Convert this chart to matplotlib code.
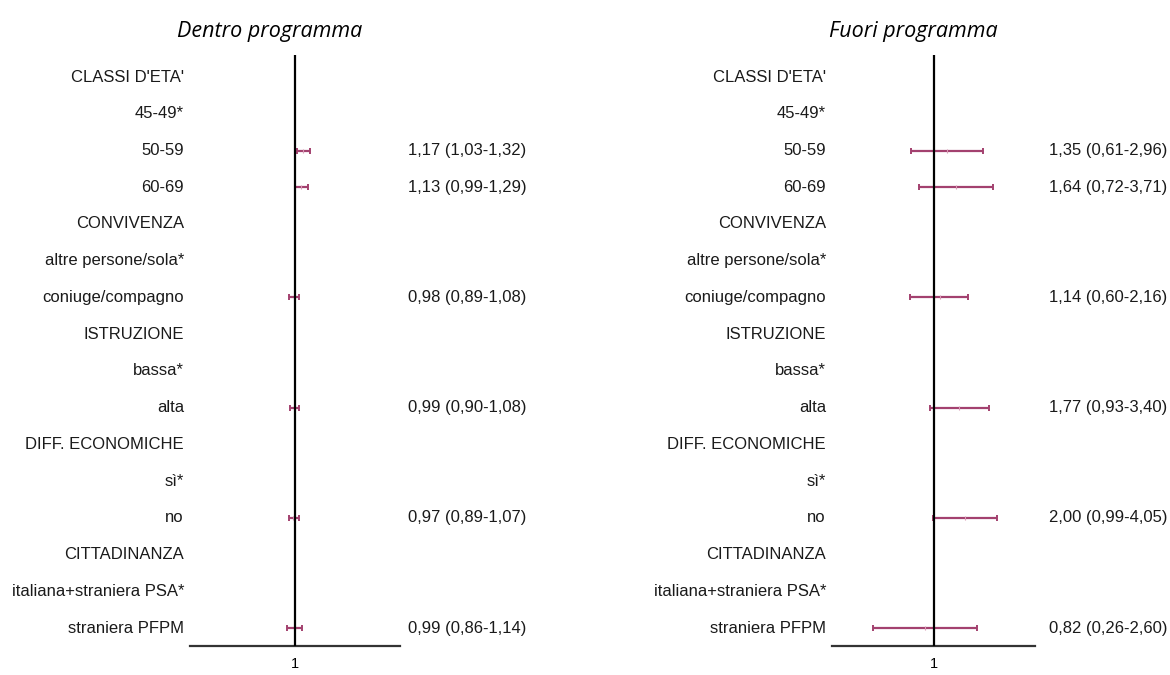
import matplotlib
matplotlib.use("Agg")
import matplotlib.pyplot as plt
import matplotlib.transforms as mtransforms
import numpy as np

labels = ["CLASSI D'ETA'", "45-49*", "50-59", "60-69",
          "CONVIVENZA", "altre persone/sola*", "coniuge/compagno",
          "ISTRUZIONE", "bassa*", "alta",
          "DIFF. ECONOMICHE", "sì*", "no",
          "CITTADINANZA", "italiana+straniera PSA*", "straniera PFPM"]

# rows with an estimate (index into labels)
rows = [2, 3, 6, 9, 12, 15]

dentro_or = [1.17, 1.13, 0.98, 0.99, 0.97, 0.99]
dentro_lo = [1.03, 0.99, 0.89, 0.90, 0.89, 0.86]
dentro_hi = [1.32, 1.29, 1.08, 1.08, 1.07, 1.14]

fuori_or = [1.35, 1.64, 1.14, 1.77, 2.00, 0.82]
fuori_lo = [0.61, 0.72, 0.60, 0.93, 0.99, 0.26]
fuori_hi = [2.96, 3.71, 2.16, 3.40, 4.05, 2.60]

titles = ["Dentro programma", "Fuori programma"]

W, H = 1170, 675
fig = plt.figure(figsize=(W / 100, H / 100), dpi=100)
plt.rcParams['font.family'] = ['Liberation Sans', 'DejaVu Sans']

bar_col = '#a3416f'
pt_col = '#d99ab6'

panels = [
    # axes edges, label right edge, value left edge (pixels), x range, title centre
    dict(x0=190, x1=400, lab=184, val=408, xlim=(0.133, 7.5), tx=270,
         orr=dentro_or, lo=dentro_lo, hi=dentro_hi),
    dict(x0=832, x1=1035, lab=826, val=1049, xlim=(0.106, 9.4), tx=913,
         orr=fuori_or, lo=fuori_lo, hi=fuori_hi),
]

top, bot = 55, 645.5
for p, title in zip(panels, titles):
    ax = fig.add_axes([p['x0'] / W, 1 - bot / H, (p['x1'] - p['x0']) / W, (bot - top) / H])
    ax.set_xscale('log')
    ax.set_xlim(*p['xlim'])
    ax.set_ylim(15.476, -0.6)
    for s in ['top', 'right', 'left']:
        ax.spines[s].set_visible(False)
    ax.spines['bottom'].set_color('#333333')
    ax.spines['bottom'].set_linewidth(1.6)
    ax.set_yticks([])
    ax.set_xticks([1])
    ax.set_xticklabels(['1'])
    ax.minorticks_off()
    ax.tick_params(axis='x', length=0, pad=8, labelsize=10.5)
    ax.axvline(1, color='black', lw=1.6, zorder=3)

    orr = np.array(p['orr'])
    err = np.array([orr - np.array(p['lo']), np.array(p['hi']) - orr])
    ax.errorbar(orr, rows, xerr=err, fmt='none', ecolor=bar_col, elinewidth=1.6,
                capsize=2.5, capthick=1.4, zorder=2)
    ax.plot(orr, rows, linestyle='none', marker='|', markersize=3, color=pt_col,
            markeredgewidth=0.8, zorder=2.5)

    trans = mtransforms.blended_transform_factory(fig.transFigure, ax.transData)
    for i, lab in enumerate(labels):
        ax.text(p['lab'] / W, i, lab, transform=trans, ha='right', va='center',
                fontsize=12, color='#1a1a1a', clip_on=False)
    for r, o, l, h in zip(rows, p['orr'], p['lo'], p['hi']):
        s = f"{o:.2f} ({l:.2f}-{h:.2f})".replace('.', ',')
        ax.text(p['val'] / W, r, s, transform=trans, ha='left', va='center',
                fontsize=12, color='#1a1a1a', clip_on=False)

    fig.text(p['tx'] / W, 1 - 31 / H, title, ha='center', va='center',
             fontsize=15.5, style='italic', family=['Open Sans', 'DejaVu Sans'])

fig.savefig('out.png', dpi=100)
